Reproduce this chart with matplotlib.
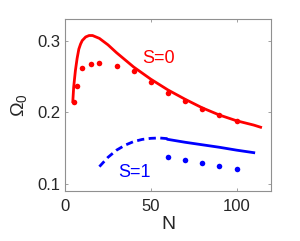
import matplotlib
matplotlib.use("Agg")
import matplotlib.pyplot as plt

plt.rcParams['font.family'] = ['Liberation Sans', 'DejaVu Sans']
plt.rcParams['mathtext.default'] = 'regular'

# S=0 theory curve
n_s0_line = [4.5, 5, 6, 7, 8, 9, 10, 12, 14, 16, 20, 25, 30, 40, 50, 60, 70, 80, 90, 100, 110, 114]
om_s0_line = [0.215, 0.235, 0.258, 0.275, 0.288, 0.295, 0.300, 0.305, 0.307, 0.307, 0.303,
              0.294, 0.283, 0.263, 0.246, 0.231, 0.218, 0.206, 0.196, 0.188, 0.182, 0.179]
# S=0 data points
n_s0_pts = [5, 7, 10, 15, 20, 30, 40, 50, 60, 70, 80, 90, 100]
om_s0_pts = [0.214, 0.236, 0.262, 0.267, 0.269, 0.264, 0.258, 0.242, 0.227, 0.216, 0.205, 0.196, 0.1875]

# S=1 theory curve (dashed part and solid part)
n_s1_dash = [20, 25, 30, 35, 40, 45, 50, 55, 60]
om_s1_dash = [0.124, 0.137, 0.147, 0.154, 0.159, 0.162, 0.1635, 0.164, 0.163]
n_s1_line = [60, 70, 80, 90, 100, 110]
om_s1_line = [0.162, 0.158, 0.1545, 0.151, 0.147, 0.1435]
# S=1 data points
n_s1_pts = [60, 70, 80, 90, 100]
om_s1_pts = [0.137, 0.1333, 0.129, 0.125, 0.121]

fig = plt.figure(figsize=(3.0, 2.41), dpi=100)
ax = fig.add_axes([0.217, 0.2075, 0.686, 0.7135])

ax.plot(n_s0_line, om_s0_line, color='red', lw=2)
ax.plot(n_s0_pts, om_s0_pts, 'o', color='red', ms=4, mec='none')
ax.plot(n_s1_dash, om_s1_dash, color='blue', lw=2, linestyle=(0, (2.6, 1.6)))
ax.plot(n_s1_line, om_s1_line, color='blue', lw=2)
ax.plot(n_s1_pts, om_s1_pts, 'o', color='blue', ms=4, mec='none')

ax.text(45, 0.268, 'S=0', color='red', fontsize=13)
ax.text(31, 0.110, 'S=1', color='blue', fontsize=13)

ax.set_xlim(0, 120)
ax.set_ylim(0.09, 0.33)
ax.set_xticks([0, 50, 100])
ax.set_yticks([0.1, 0.2, 0.3])
ax.set_yticklabels(['0.1', '0.2', '0.3'])
ax.tick_params(direction='in', top=True, right=True, length=2, width=0.6,
               color='#909090', labelsize=12, labelcolor='#262626')
ax.tick_params(axis='x', pad=6)
for sp in ax.spines.values():
    sp.set_color('#909090')
    sp.set_linewidth(0.8)

ax.set_xlabel('N', fontsize=14, color='#262626', labelpad=1)
ax.set_ylabel(r'$\Omega_0$', fontsize=14, color='#262626', labelpad=6)

fig.savefig('out.png', dpi=100)
